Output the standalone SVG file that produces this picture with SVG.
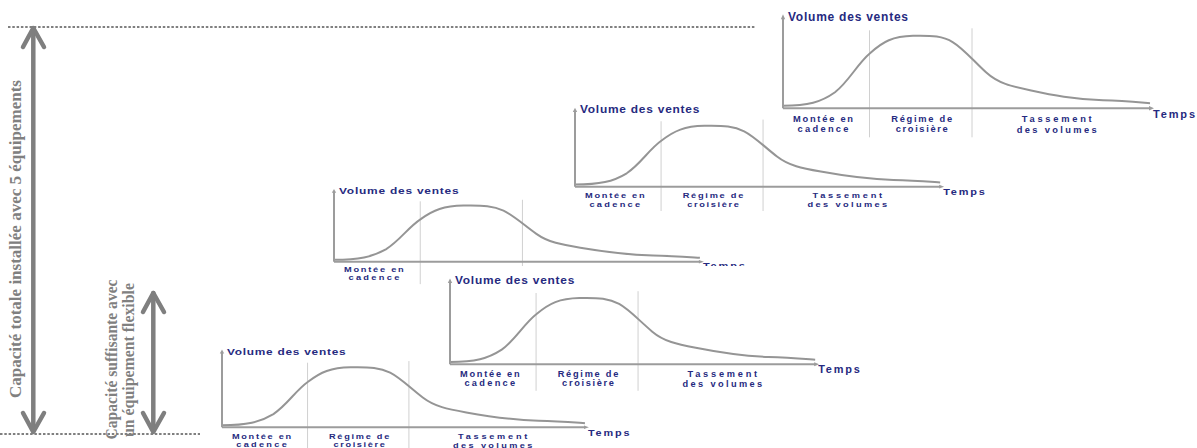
<svg xmlns="http://www.w3.org/2000/svg" xmlns:xlink="http://www.w3.org/1999/xlink" width="1197" height="448" viewBox="0 0 1197 448">
<style>
.axis{stroke:#9c9c9c;stroke-width:2;fill:none}
.div{stroke:#d0d0d0;stroke-width:1;fill:none}
.curve{stroke:#959595;stroke-width:2;fill:none}
.ah{fill:#9c9c9c}
.vol{font-family:"Liberation Sans",Arial,sans-serif;font-weight:bold;font-size:12px;fill:#262a80}
.lbl{font-family:"Liberation Sans",Arial,sans-serif;font-weight:bold;font-size:9.3px;fill:#262a80;text-anchor:middle}
.tps{font-family:"Liberation Sans",Arial,sans-serif;font-weight:bold;font-size:11px;fill:#262a80}
.dot{stroke:#000;stroke-width:1;stroke-dasharray:2.5,1.8;fill:none}
.big{stroke:#7f7f7f;stroke-width:4.5;fill:none;stroke-linecap:round;stroke-linejoin:round}
.cap{font-family:"Liberation Serif","Times New Roman",serif;font-weight:bold;fill:#808080;text-anchor:middle}
</style>
<defs>
<g id="shapes">
<line class="div" x1="86.5" y1="-78" x2="86.5" y2="29" vector-effect="non-scaling-stroke"/>
<line class="div" x1="189" y1="-80" x2="189" y2="29" vector-effect="non-scaling-stroke"/>
<path class="curve" vector-effect="non-scaling-stroke" d="M0,-2.5 C25,-2.5 38,-6 52,-16 C66,-27 74,-44 87,-55 C100,-67 110,-72 130,-72.5 C150,-73 160,-72 170,-66 C180,-60 190,-48 203,-36 C215,-25 228,-22 247,-18 C270,-13 290,-9 320,-8 C340,-7.5 355,-6 367,-5"/>
<line class="axis" x1="0" y1="0" x2="0" y2="-90" vector-effect="non-scaling-stroke"/>
<line class="axis" x1="0" y1="0" x2="367" y2="0" vector-effect="non-scaling-stroke"/>
<path class="ah" d="M-2.2,-89 L0,-94 L2.2,-89 Z"/>
<path class="ah" d="M366,-2.2 L371,0 L366,2.2 Z"/>
</g>
</defs>

<g id="guides">
<line class="dot" x1="8" y1="27" x2="755" y2="27"/>
<line class="dot" x1="0" y1="434" x2="200" y2="434"/>
</g>

<g id="chart1" transform="translate(783,108.3)">
<use xlink:href="#shapes" href="#shapes"/>
<text class="vol" x="5" y="-87.5" textLength="120" lengthAdjust="spacing">Volume des ventes</text>
<text class="lbl" x="40" y="13.8" textLength="60" lengthAdjust="spacing">Montée en</text>
<text class="lbl" x="40" y="23.8" textLength="51" lengthAdjust="spacing">cadence</text>
<text class="lbl" x="138.7" y="13.8" textLength="61" lengthAdjust="spacing">Régime de</text>
<text class="lbl" x="138.7" y="23.8" textLength="52" lengthAdjust="spacing">croisière</text>
<text class="lbl" x="273.7" y="13.8" textLength="70" lengthAdjust="spacing">Tassement</text>
<text class="lbl" x="273.7" y="24.8" textLength="80" lengthAdjust="spacing">des volumes</text>
<text class="tps" x="370" y="10" textLength="42" lengthAdjust="spacing">Temps</text>
</g>

<g id="chart2" transform="translate(575,186.7) scale(0.995,0.839)">
<use xlink:href="#shapes" href="#shapes"/>
<text class="vol" x="5" y="-87.5" textLength="120" lengthAdjust="spacing">Volume des ventes</text>
<text class="lbl" x="40" y="13.8" textLength="60" lengthAdjust="spacing">Montée en</text>
<text class="lbl" x="40" y="23.8" textLength="51" lengthAdjust="spacing">cadence</text>
<text class="lbl" x="138.7" y="13.8" textLength="61" lengthAdjust="spacing">Régime de</text>
<text class="lbl" x="138.7" y="23.8" textLength="52" lengthAdjust="spacing">croisière</text>
<text class="lbl" x="273.7" y="13.8" textLength="70" lengthAdjust="spacing">Tassement</text>
<text class="lbl" x="273.7" y="24.8" textLength="80" lengthAdjust="spacing">des volumes</text>
<text class="tps" x="370" y="10" textLength="42" lengthAdjust="spacing">Temps</text>
</g>

<g id="chart3" transform="translate(334,261.7) scale(0.997,0.774)">
<use xlink:href="#shapes" href="#shapes"/>
<text class="vol" x="5" y="-87.5" textLength="120" lengthAdjust="spacing">Volume des ventes</text>
<text class="lbl" x="40" y="13.8" textLength="60" lengthAdjust="spacing">Montée en</text>
<text class="lbl" x="40" y="23.8" textLength="51" lengthAdjust="spacing">cadence</text>
<text class="tps" x="370" y="10" textLength="42" lengthAdjust="spacing">Temps</text>
</g>

<g id="chart4">
<rect x="438" y="266" width="432" height="126" fill="#ffffff"/>
<g transform="translate(450,364.3) scale(0.995,0.914)">
<use xlink:href="#shapes" href="#shapes"/>
<text class="vol" x="5" y="-87.5" textLength="120" lengthAdjust="spacing">Volume des ventes</text>
<text class="lbl" x="40" y="13.8" textLength="60" lengthAdjust="spacing">Montée en</text>
<text class="lbl" x="40" y="23.8" textLength="51" lengthAdjust="spacing">cadence</text>
<text class="lbl" x="138.7" y="13.8" textLength="61" lengthAdjust="spacing">Régime de</text>
<text class="lbl" x="138.7" y="23.8" textLength="52" lengthAdjust="spacing">croisière</text>
<text class="lbl" x="273.7" y="13.8" textLength="70" lengthAdjust="spacing">Tassement</text>
<text class="lbl" x="273.7" y="24.8" textLength="80" lengthAdjust="spacing">des volumes</text>
<text class="tps" x="370" y="10" textLength="42" lengthAdjust="spacing">Temps</text>
</g>
</g>

<g id="chart5" transform="translate(222,427.3) scale(0.989,0.828)">
<use xlink:href="#shapes" href="#shapes"/>
<text class="vol" x="5" y="-87.5" textLength="120" lengthAdjust="spacing">Volume des ventes</text>
<text class="lbl" x="40" y="13.8" textLength="60" lengthAdjust="spacing">Montée en</text>
<text class="lbl" x="40" y="23.8" textLength="51" lengthAdjust="spacing">cadence</text>
<text class="lbl" x="138.7" y="13.8" textLength="61" lengthAdjust="spacing">Régime de</text>
<text class="lbl" x="138.7" y="23.8" textLength="52" lengthAdjust="spacing">croisière</text>
<text class="lbl" x="273.7" y="13.8" textLength="70" lengthAdjust="spacing">Tassement</text>
<text class="lbl" x="273.7" y="24.8" textLength="80" lengthAdjust="spacing">des volumes</text>
<text class="tps" x="370" y="10" textLength="42" lengthAdjust="spacing">Temps</text>
</g>

<g id="capacity-total">
<line class="big" x1="33.3" y1="29" x2="33.3" y2="431"/>
<polyline class="big" points="23,47 33.3,28 44,47"/>
<polyline class="big" points="23,413 33.3,432 44,413"/>
<text class="cap" font-size="17" transform="translate(20.5,239) rotate(-90)" textLength="318" lengthAdjust="spacingAndGlyphs">Capacité totale installée avec 5 équipements</text>
</g>

<g id="capacity-flex">
<line class="big" x1="153.3" y1="293" x2="153.3" y2="431"/>
<polyline class="big" points="143,312 153.3,293 164,312"/>
<polyline class="big" points="143,413 153.3,432 164,413"/>
<text class="cap" font-size="16" transform="translate(117,359.5) rotate(-90)" textLength="160" lengthAdjust="spacingAndGlyphs">Capacité suffisante avec</text>
<text class="cap" font-size="16" transform="translate(134,360) rotate(-90)" textLength="154" lengthAdjust="spacingAndGlyphs">un équipement flexible</text>
</g>
</svg>
